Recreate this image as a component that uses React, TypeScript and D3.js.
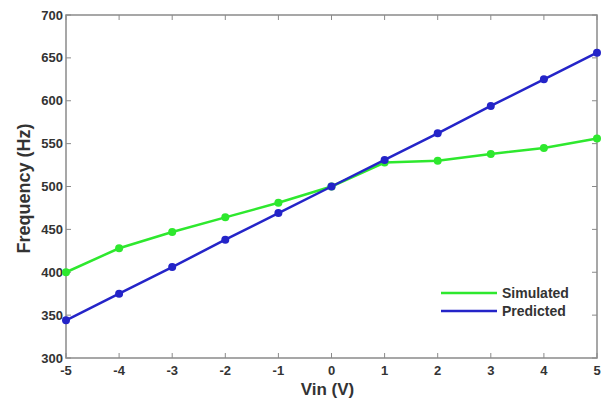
import React from 'react';
import * as d3 from 'd3';

const vin = [-5, -4, -3, -2, -1, 0, 1, 2, 3, 4, 5];
const simulated = [400, 428, 447, 464, 481, 500, 528, 530, 538, 545, 556];
const predicted = [344, 375, 406, 438, 469, 500, 531, 562, 594, 625, 656];
const xTicks = [-5, -4, -3, -2, -1, 0, 1, 2, 3, 4, 5];
const yTicks = [300, 350, 400, 450, 500, 550, 600, 650, 700];

const series = [
  { name: 'Simulated', values: simulated, color: '#2ee82e' },
  { name: 'Predicted', values: predicted, color: '#2424c8' },
];

export default function App() {
  const width = 603;
  const height = 404;
  const margin = { top: 15, right: 6, bottom: 46, left: 66 };
  const innerW = width - margin.left - margin.right;
  const innerH = height - margin.top - margin.bottom;

  const x = d3.scaleLinear().domain([-5, 5]).range([0, innerW]);
  const y = d3.scaleLinear().domain([300, 700]).range([innerH, 0]);

  const line = d3.line<number>()
    .x((_, i) => x(vin[i]))
    .y(d => y(d));

  const axisColor = '#8a8a8a';
  const textColor = '#333';
  const font = "'Liberation Sans', Arial, sans-serif";

  return (
    <svg width={width} height={height} style={{ position: 'absolute', left: 0, top: 0, background: '#fff' }}>
      <g transform={`translate(${margin.left},${margin.top})`} fontFamily={font}>
        {/* box */}
        <rect x={0} y={0} width={innerW} height={innerH} fill="none" stroke={axisColor} strokeWidth={1.5} />

        {/* x ticks */}
        {xTicks.map(t => (
          <g key={'x' + t}>
            <line x1={x(t)} x2={x(t)} y1={innerH} y2={innerH - 5} stroke={axisColor} />
            <line x1={x(t)} x2={x(t)} y1={0} y2={5} stroke={axisColor} />
            <text x={x(t)} y={innerH + 17} textAnchor="middle" fontSize={13} fontWeight="bold" fill={textColor}>{t}</text>
          </g>
        ))}

        {/* y ticks */}
        {yTicks.map(t => (
          <g key={'y' + t}>
            <line x1={0} x2={5} y1={y(t)} y2={y(t)} stroke={axisColor} />
            <line x1={innerW} x2={innerW - 5} y1={y(t)} y2={y(t)} stroke={axisColor} />
            <text x={-3} y={y(t) + 4.5} textAnchor="end" fontSize={13} fontWeight="bold" fill={textColor}>{t}</text>
          </g>
        ))}

        {/* series */}
        {series.map(s => (
          <g key={s.name}>
            <path d={line(s.values) || ''} fill="none" stroke={s.color} strokeWidth={2.5} />
            {s.values.map((v, i) => (
              <circle key={i} cx={x(vin[i])} cy={y(v)} r={4} fill={s.color} />
            ))}
          </g>
        ))}

        {/* legend */}
        {series.map((s, i) => (
          <g key={'leg' + s.name} transform={`translate(${375},${278 + i * 18})`}>
            <line x1={0} x2={56} y1={0} y2={0} stroke={s.color} strokeWidth={2.5} />
            <text x={61} y={5} fontSize={14} fontWeight="bold" fill={textColor}>{s.name}</text>
          </g>
        ))}

        {/* axis titles */}
        <text x={innerW / 2 - 4} y={innerH + 37} textAnchor="middle" fontSize={17} fontWeight="bold" fill={textColor}>Vin (V)</text>
        <text transform={`translate(${-36},${innerH / 2 + 2}) rotate(-90)`} textAnchor="middle" fontSize={18} fontWeight="bold" fill={textColor}>Frequency (Hz)</text>
      </g>
    </svg>
  );
}
